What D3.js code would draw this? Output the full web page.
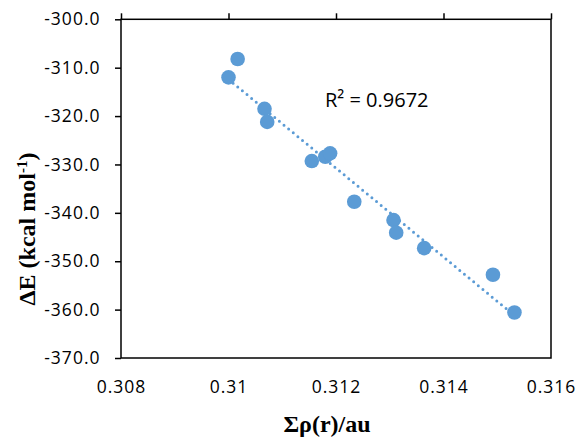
<!DOCTYPE html>
<html>
<head>
<meta charset="utf-8">
<script src="https://cdnjs.cloudflare.com/ajax/libs/d3/7.8.5/d3.min.js"></script>
<style>
  body { margin: 0; background: #fff; }
  svg text { font-family: "Open Sans", sans-serif; }
</style>
</head>
<body>
<div id="chart"></div>
<script>
// values
const rho = [0.31017, 0.31000, 0.31067, 0.31072, 0.31155, 0.31180, 0.31189,
             0.31234, 0.31307, 0.31312, 0.31364, 0.31492, 0.31532];
const deltaE = [-308.2, -312.0, -318.5, -321.2, -329.3, -328.4, -327.7,
                -337.7, -341.5, -344.1, -347.3, -352.8, -360.6];
const xTicks = [0.308, 0.31, 0.312, 0.314, 0.316];
const xTickLabels = ['0.308', '0.31', '0.312', '0.314', '0.316'];
const yTicks = [-300, -310, -320, -330, -340, -350, -360, -370];
const r2Label = 'R² = 0.9672';

const width = 578, height = 440;
const plotL = 121, plotT = 19.3, plotR = 551, plotB = 358;

const svg = d3.select('#chart').append('svg')
    .attr('width', width)
    .attr('height', height);

const x = d3.scaleLinear().domain([0.308, 0.316]).range([plotL, plotR]);
const y = d3.scaleLinear().domain([-370, -300]).range([plotB, plotT]);

// plot border
svg.append('rect')
    .attr('x', plotL).attr('y', plotT)
    .attr('width', plotR - plotL).attr('height', plotB - plotT)
    .attr('fill', 'none')
    .attr('stroke', '#000')
    .attr('stroke-width', 1.5);

// x axis sits on the top edge (crosses at -300), labels at the bottom
const xAxis = svg.append('g')
    .attr('transform', `translate(0,${plotT})`)
    .call(d3.axisTop(x).tickValues(xTicks).tickSize(6).tickFormat(''));
xAxis.select('.domain').remove();
xAxis.selectAll('line').attr('stroke', '#000').attr('stroke-width', 1.5);

svg.append('g').selectAll('text')
    .data(xTicks)
    .enter().append('text')
    .attr('x', d => x(d) + 0.5)
    .attr('y', 393)
    .attr('text-anchor', 'middle')
    .attr('font-size', '17.5px')
    .attr('letter-spacing', '1px')
    .attr('fill', '#000')
    .text((d, i) => xTickLabels[i]);

// y axis
const yAxis = svg.append('g')
    .attr('transform', `translate(${plotL},0)`)
    .call(d3.axisLeft(y).tickValues(yTicks).tickSize(6).tickPadding(14.5)
        .tickFormat(d3.format('.1f')));
yAxis.select('.domain').remove();
yAxis.selectAll('line').attr('stroke', '#000').attr('stroke-width', 1.5);
yAxis.selectAll('text')
    .attr('font-size', '17.5px')
    .attr('letter-spacing', '1px')
    .attr('fill', '#000')
    .style('font-family', '"Open Sans", sans-serif')
    .text(d => d3.format('.1f')(d).replace('−', '-'));

// linear trendline
const n = rho.length;
const mx = d3.mean(rho), my = d3.mean(deltaE);
let sxy = 0, sxx = 0;
for (let i = 0; i < n; i++) {
    sxy += (rho[i] - mx) * (deltaE[i] - my);
    sxx += (rho[i] - mx) * (rho[i] - mx);
}
const slope = sxy / sxx, icpt = my - slope * mx;
const xr = d3.extent(rho);
svg.append('line')
    .attr('x1', x(xr[0])).attr('y1', y(slope * xr[0] + icpt))
    .attr('x2', x(xr[1])).attr('y2', y(slope * xr[1] + icpt))
    .attr('stroke', '#5b9bd5')
    .attr('stroke-width', 3)
    .attr('stroke-linecap', 'round')
    .attr('stroke-dasharray', '0 6');

// points
svg.append('g').selectAll('circle')
    .data(rho)
    .enter().append('circle')
    .attr('cx', d => x(d))
    .attr('cy', (d, i) => y(deltaE[i]))
    .attr('r', 7.3)
    .attr('fill', '#5b9bd5');

svg.append('text')
    .attr('x', 325)
    .attr('y', 106.7)
    .attr('font-size', '20px')
    .attr('fill', '#000')
    .text(r2Label);

// axis titles
svg.append('text')
    .attr('transform', 'translate(35,229) rotate(-90)')
    .attr('text-anchor', 'middle')
    .style('font-family', '"Liberation Serif", "Times New Roman", serif')
    .attr('font-weight', 'bold')
    .attr('font-size', '24px')
    .attr('fill', '#000')
    .html('ΔE (kcal mol<tspan dy="-8" font-size="15px">-1</tspan><tspan dy="8">)</tspan>');

svg.append('text')
    .attr('x', 327)
    .attr('y', 432)
    .attr('text-anchor', 'middle')
    .style('font-family', '"Liberation Serif", "Times New Roman", serif')
    .attr('font-weight', 'bold')
    .attr('font-size', '24px')
    .attr('fill', '#000')
    .text('Σρ(r)/au');
</script>
</body>
</html>
